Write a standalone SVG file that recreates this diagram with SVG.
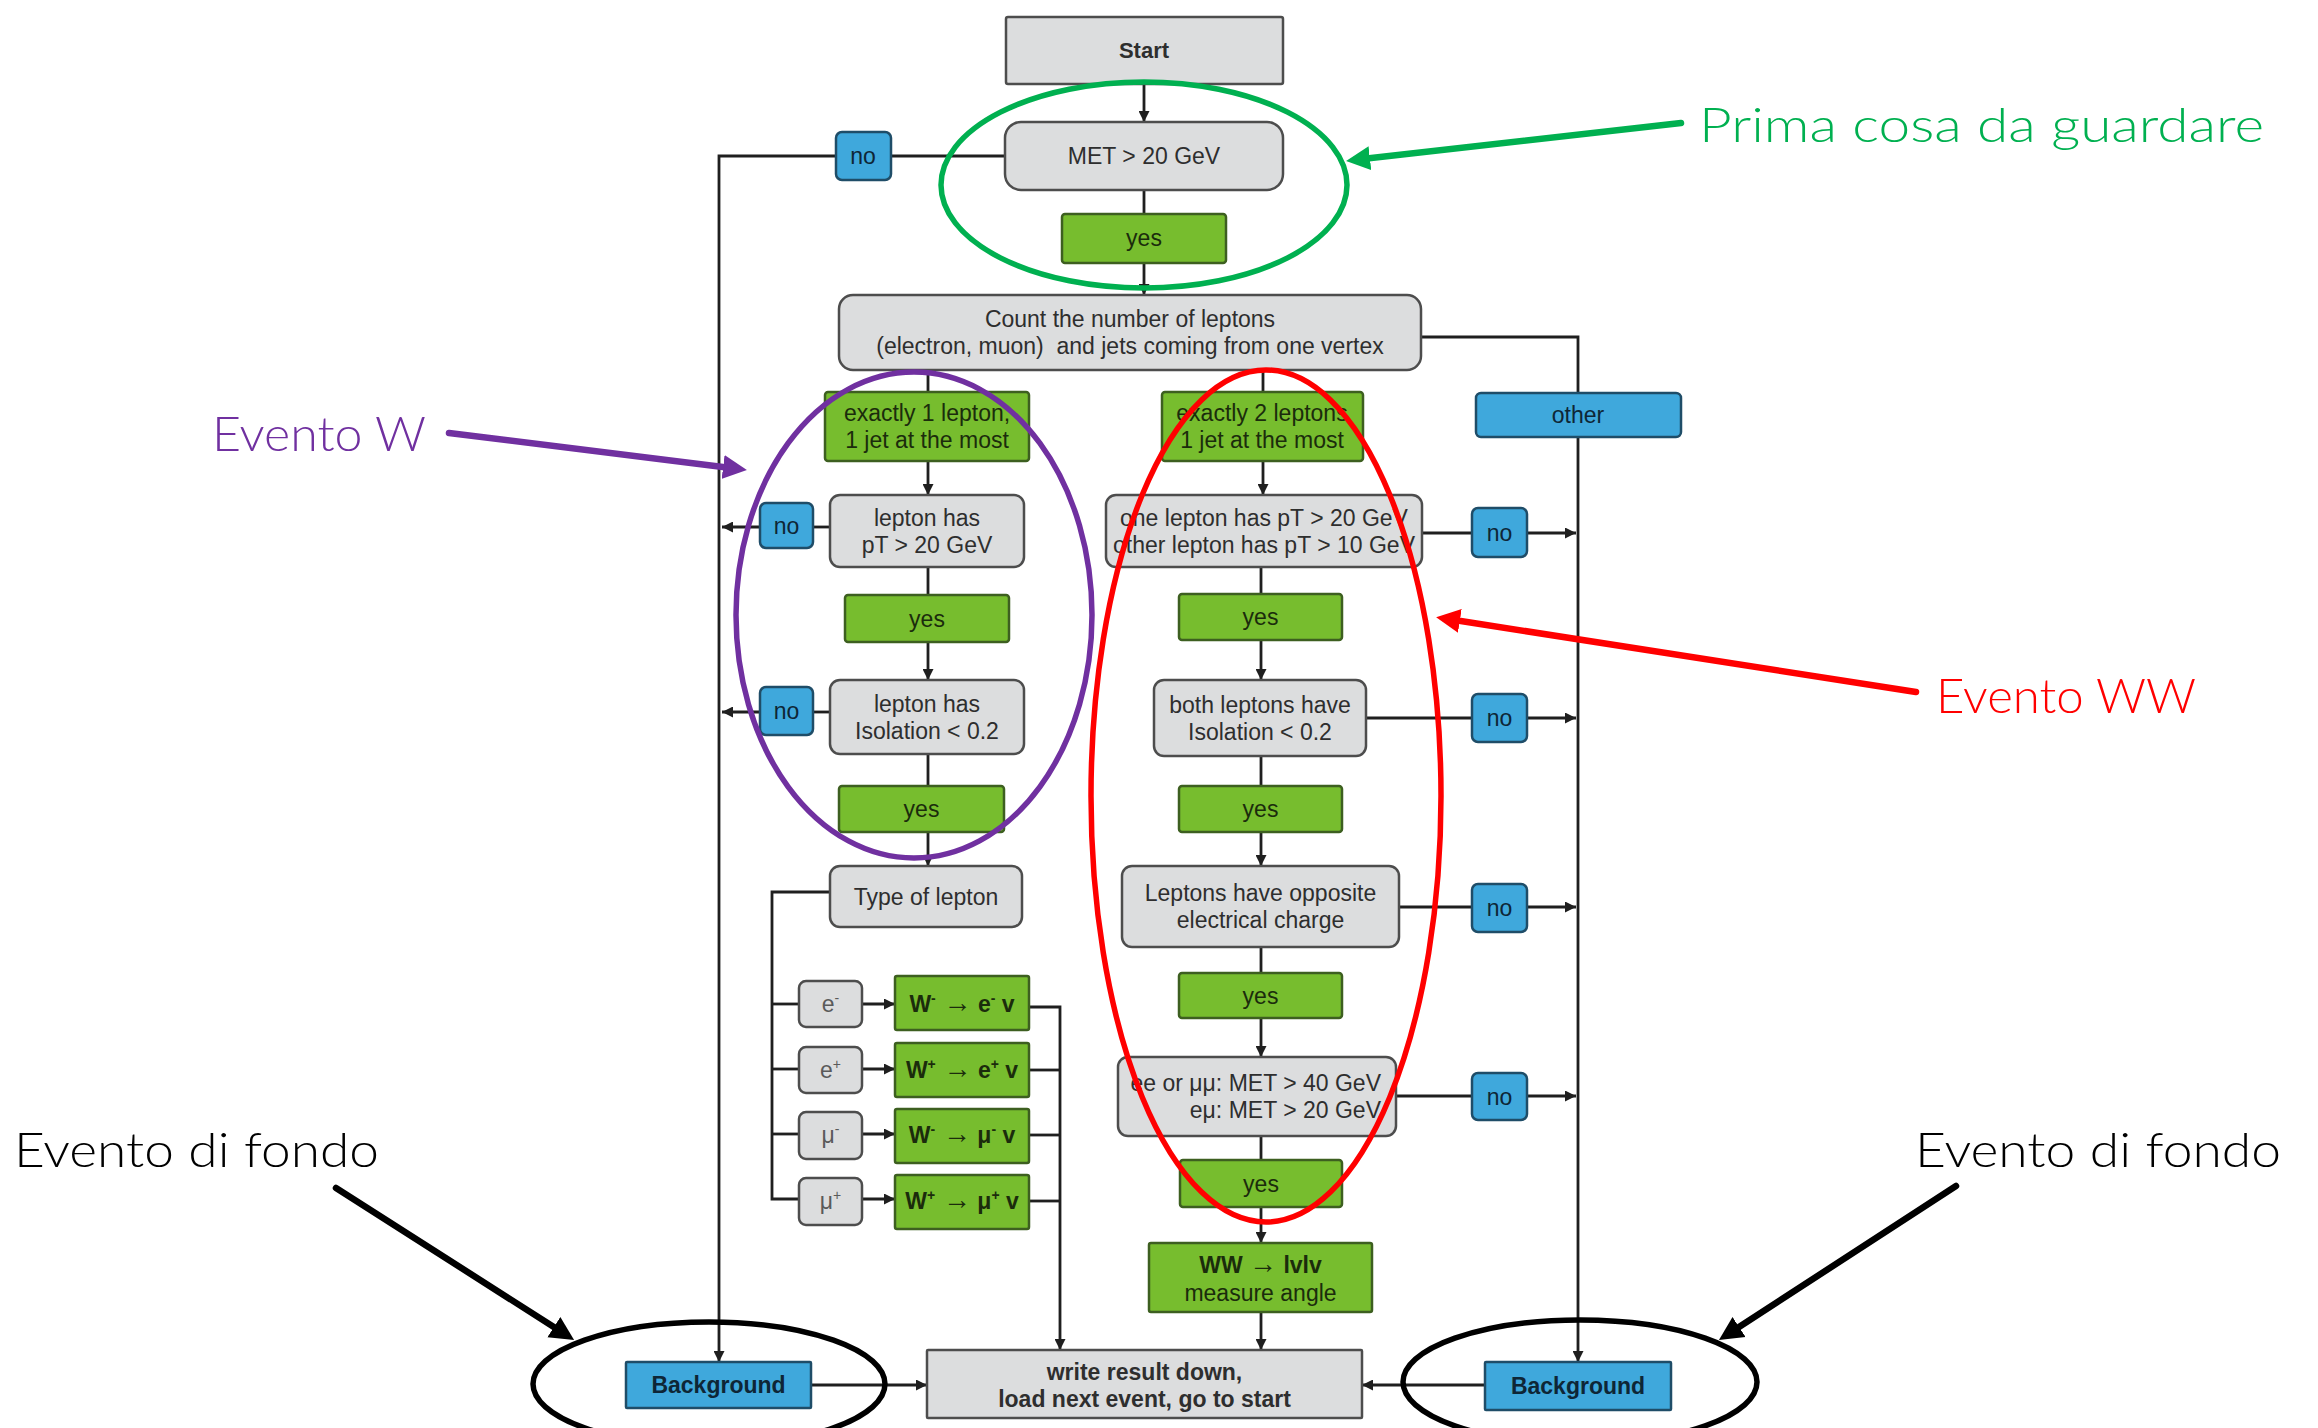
<svg xmlns="http://www.w3.org/2000/svg" width="2318" height="1428" viewBox="0 0 2318 1428">
<defs>
<style>
.g{fill:#dcddde;stroke:#4d4d4d;stroke-width:2.5}
.gr{fill:#77bd2e;stroke:#3d5f20;stroke-width:2.5}
.b{fill:#3fa8dc;stroke:#1f4d68;stroke-width:2.5}
text{font-family:"Liberation Sans",Arial,sans-serif;font-size:23px;text-anchor:middle}
.tg{fill:#2e2e2e}
.tl{fill:#5a5a5a}
.tgr{fill:#1b2c0c}
.tb{fill:#0e2636}
.bd{font-weight:bold}
.c{fill:none;stroke:#1f1f1f;stroke-width:2.8}
.ca{fill:none;stroke:#1f1f1f;stroke-width:2.8;marker-end:url(#ah)}
.ann{font-family:Lato,"Open Sans",sans-serif;font-weight:300;font-size:48px;text-anchor:start}
.ae{fill:none;stroke-width:5.5}
.al{fill:none;stroke-width:6.5;stroke-linecap:round}
</style>
<marker id="ah" viewBox="0 0 10 10" refX="10" refY="5" markerUnits="userSpaceOnUse" markerWidth="11" markerHeight="11" orient="auto"><path d="M0,0 L10,5 L0,10 z" fill="#1f1f1f"/></marker>
<marker id="agreen" viewBox="0 0 10 10" refX="5" refY="5" markerUnits="userSpaceOnUse" markerWidth="24" markerHeight="26" orient="auto"><path d="M0,0 L10,5 L0,10 z" fill="#00b050"/></marker>
<marker id="apurple" viewBox="0 0 10 10" refX="5" refY="5" markerUnits="userSpaceOnUse" markerWidth="24" markerHeight="26" orient="auto"><path d="M0,0 L10,5 L0,10 z" fill="#7030a0"/></marker>
<marker id="ared" viewBox="0 0 10 10" refX="5" refY="5" markerUnits="userSpaceOnUse" markerWidth="24" markerHeight="26" orient="auto"><path d="M0,0 L10,5 L0,10 z" fill="#ff0000"/></marker>
<marker id="ablack" viewBox="0 0 10 10" refX="5" refY="5" markerUnits="userSpaceOnUse" markerWidth="24" markerHeight="26" orient="auto"><path d="M0,0 L10,5 L0,10 z" fill="#000000"/></marker>
</defs>
<rect width="2318" height="1428" fill="#ffffff"/>

<g id="connectors">
<line class="ca" x1="1144" y1="84" x2="1144" y2="122"/>
<line class="c" x1="1005" y1="156" x2="891" y2="156"/>
<polyline class="ca" points="836,156 719,156 719,1362"/>
<line class="c" x1="1144" y1="190" x2="1144" y2="214"/>
<line class="ca" x1="1144" y1="263" x2="1144" y2="295"/>
<line class="c" x1="928" y1="370" x2="928" y2="392"/>
<line class="c" x1="1263" y1="370" x2="1263" y2="392"/>
<polyline class="ca" points="1421,337 1578,337 1578,1362"/>
<line class="ca" x1="928" y1="461" x2="928" y2="495"/>
<line class="ca" x1="1263" y1="461" x2="1263" y2="495"/>
<line class="c" x1="830" y1="527" x2="813" y2="527"/>
<line class="ca" x1="760" y1="527" x2="722" y2="527"/>
<line class="c" x1="928" y1="567" x2="928" y2="595"/>
<line class="ca" x1="928" y1="642" x2="928" y2="680"/>
<line class="c" x1="830" y1="712" x2="813" y2="712"/>
<line class="ca" x1="760" y1="712" x2="722" y2="712"/>
<line class="c" x1="928" y1="754" x2="928" y2="786"/>
<line class="ca" x1="928" y1="832" x2="928" y2="866"/>
<polyline class="c" points="830,892 772,892 772,1199 799,1199"/>
<line class="c" x1="772" y1="1004" x2="799" y2="1004"/>
<line class="c" x1="772" y1="1069" x2="799" y2="1069"/>
<line class="c" x1="772" y1="1134" x2="799" y2="1134"/>
<line class="ca" x1="862" y1="1004" x2="895" y2="1004"/>
<line class="ca" x1="862" y1="1069" x2="895" y2="1069"/>
<line class="ca" x1="862" y1="1134" x2="895" y2="1134"/>
<line class="ca" x1="862" y1="1199" x2="895" y2="1199"/>
<polyline class="ca" points="1029,1007 1060,1007 1060,1350"/>
<line class="c" x1="1029" y1="1070" x2="1060" y2="1070"/>
<line class="c" x1="1029" y1="1135" x2="1060" y2="1135"/>
<line class="c" x1="1029" y1="1201" x2="1060" y2="1201"/>
<line class="c" x1="1422" y1="533" x2="1472" y2="533"/>
<line class="ca" x1="1527" y1="533" x2="1576" y2="533"/>
<line class="c" x1="1261" y1="567" x2="1261" y2="594"/>
<line class="ca" x1="1261" y1="640" x2="1261" y2="680"/>
<line class="c" x1="1366" y1="718" x2="1472" y2="718"/>
<line class="ca" x1="1527" y1="718" x2="1576" y2="718"/>
<line class="c" x1="1261" y1="756" x2="1261" y2="786"/>
<line class="ca" x1="1261" y1="832" x2="1261" y2="866"/>
<line class="c" x1="1399" y1="907" x2="1472" y2="907"/>
<line class="ca" x1="1527" y1="907" x2="1576" y2="907"/>
<line class="c" x1="1261" y1="947" x2="1261" y2="973"/>
<line class="ca" x1="1261" y1="1018" x2="1261" y2="1057"/>
<line class="c" x1="1396" y1="1096" x2="1472" y2="1096"/>
<line class="ca" x1="1527" y1="1096" x2="1576" y2="1096"/>
<line class="c" x1="1261" y1="1136" x2="1261" y2="1160"/>
<line class="ca" x1="1261" y1="1207" x2="1261" y2="1243"/>
<line class="ca" x1="1261" y1="1312" x2="1261" y2="1350"/>
<line class="ca" x1="811" y1="1385" x2="927" y2="1385"/>
<line class="ca" x1="1485" y1="1385" x2="1362" y2="1385"/>
</g>

<g id="start"><rect class="g" x="1006" y="17" width="277" height="67" rx="2"/><text class="tg bd" x="1144" y="58" style="font-size:22px">Start</text></g>
<g id="met"><rect class="g" x="1005" y="122" width="278" height="68" rx="16"/><text class="tg" x="1144" y="164">MET &gt; 20 GeV</text></g>
<g id="no-met"><rect class="b" x="836" y="132" width="55" height="48" rx="6"/><text class="tb" x="863" y="164">no</text></g>
<g id="yes-met"><rect class="gr" x="1062" y="214" width="164" height="49" rx="3"/><text class="tgr" x="1144" y="246">yes</text></g>
<g id="count"><rect class="g" x="839" y="295" width="582" height="75" rx="14"/><text class="tg" x="1130" y="327">Count the number of leptons</text><text class="tg" x="1130" y="354" xml:space="preserve">(electron, muon)  and jets coming from one vertex</text></g>
<g id="exactly1"><rect class="gr" x="825" y="392" width="204" height="69" rx="3"/><text class="tgr" x="927" y="421">exactly 1 lepton,</text><text class="tgr" x="927" y="448">1 jet at the most</text></g>
<g id="exactly2"><rect class="gr" x="1162" y="392" width="201" height="69" rx="3"/><text class="tgr" x="1262" y="421">exactly 2 leptons</text><text class="tgr" x="1262" y="448">1 jet at the most</text></g>
<g id="other"><rect class="b" x="1476" y="393" width="205" height="44" rx="5"/><text class="tb" x="1578" y="423">other</text></g>
<g id="pt1"><rect class="g" x="830" y="495" width="194" height="72" rx="10"/><text class="tg" x="927" y="526">lepton has</text><text class="tg" x="927" y="553">pT &gt; 20 GeV</text></g>
<g id="no-pt1"><rect class="b" x="760" y="503" width="53" height="45" rx="6"/><text class="tb" x="786.5" y="534">no</text></g>
<g id="pt2"><rect class="g" x="1106" y="495" width="316" height="72" rx="10"/><text class="tg" x="1264" y="526">one lepton has pT &gt; 20 GeV</text><text class="tg" x="1264" y="553">other lepton has pT &gt; 10 GeV</text></g>
<g id="no-pt2"><rect class="b" x="1472" y="508" width="55" height="49" rx="6"/><text class="tb" x="1499.5" y="541">no</text></g>
<g id="yes-pt1"><rect class="gr" x="845" y="595" width="164" height="47" rx="3"/><text class="tgr" x="927" y="627">yes</text></g>
<g id="yes-pt2"><rect class="gr" x="1179" y="594" width="163" height="46" rx="3"/><text class="tgr" x="1260.5" y="625">yes</text></g>
<g id="iso1"><rect class="g" x="830" y="680" width="194" height="74" rx="10"/><text class="tg" x="927" y="712">lepton has</text><text class="tg" x="927" y="739">Isolation &lt; 0.2</text></g>
<g id="no-iso1"><rect class="b" x="760" y="687" width="53" height="48" rx="6"/><text class="tb" x="786.5" y="719">no</text></g>
<g id="iso2"><rect class="g" x="1154" y="680" width="212" height="76" rx="10"/><text class="tg" x="1260" y="713">both leptons have</text><text class="tg" x="1260" y="740">Isolation &lt; 0.2</text></g>
<g id="no-iso2"><rect class="b" x="1472" y="694" width="55" height="48" rx="6"/><text class="tb" x="1499.5" y="726">no</text></g>
<g id="yes-iso1"><rect class="gr" x="839" y="786" width="165" height="46" rx="3"/><text class="tgr" x="921.5" y="817">yes</text></g>
<g id="yes-iso2"><rect class="gr" x="1179" y="786" width="163" height="46" rx="3"/><text class="tgr" x="1260.5" y="817">yes</text></g>
<g id="type"><rect class="g" x="830" y="866" width="192" height="61" rx="10"/><text class="tg" x="926" y="905">Type of lepton</text></g>
<g id="opp"><rect class="g" x="1122" y="866" width="277" height="81" rx="10"/><text class="tg" x="1260.5" y="901">Leptons have opposite</text><text class="tg" x="1260.5" y="928">electrical charge</text></g>
<g id="no-opp"><rect class="b" x="1472" y="884" width="55" height="48" rx="6"/><text class="tb" x="1499.5" y="916">no</text></g>
<g id="yes-opp"><rect class="gr" x="1179" y="973" width="163" height="45" rx="3"/><text class="tgr" x="1260.5" y="1004">yes</text></g>
<g id="met2"><rect class="g" x="1118" y="1057" width="278" height="79" rx="10"/><text class="tg" x="1381" y="1091" style="text-anchor:end">ee or μμ: MET &gt; 40 GeV</text><text class="tg" x="1381" y="1118" style="text-anchor:end">eμ: MET &gt; 20 GeV</text></g>
<g id="no-met2"><rect class="b" x="1472" y="1073" width="55" height="47" rx="6"/><text class="tb" x="1499.5" y="1105">no</text></g>
<g id="yes-met2"><rect class="gr" x="1180" y="1160" width="162" height="47" rx="3"/><text class="tgr" x="1261" y="1192">yes</text></g>
<g id="ww"><rect class="gr" x="1149" y="1243" width="223" height="69" rx="2"/><text class="tgr bd" x="1260.5" y="1273">WW <tspan font-size="28">→</tspan> lvlv</text><text class="tgr" x="1260.5" y="1301">measure angle</text></g>

<g id="lep-em"><rect class="g" x="799" y="981" width="63" height="46" rx="7"/><text class="tl" x="830.5" y="1012">e<tspan font-size="14" dy="-9">-</tspan></text></g>
<g id="lep-ep"><rect class="g" x="799" y="1047" width="63" height="46" rx="7"/><text class="tl" x="830.5" y="1078">e<tspan font-size="14" dy="-9">+</tspan></text></g>
<g id="lep-mm"><rect class="g" x="799" y="1112" width="63" height="47" rx="7"/><text class="tl" x="830.5" y="1143">μ<tspan font-size="14" dy="-9">-</tspan></text></g>
<g id="lep-mp"><rect class="g" x="799" y="1178" width="63" height="47" rx="7"/><text class="tl" x="830.5" y="1209">μ<tspan font-size="14" dy="-9">+</tspan></text></g>
<g id="w-em"><rect class="gr" x="895" y="976" width="134" height="54" rx="2"/><text class="tgr bd" x="962" y="1012">W<tspan font-size="14" dy="-9">-</tspan><tspan dy="9" font-size="28"> →</tspan><tspan dy="0"> e</tspan><tspan font-size="14" dy="-9">-</tspan><tspan dy="9"> v</tspan></text></g>
<g id="w-ep"><rect class="gr" x="895" y="1043" width="134" height="54" rx="2"/><text class="tgr bd" x="962" y="1078">W<tspan font-size="14" dy="-9">+</tspan><tspan dy="9" font-size="28"> →</tspan><tspan dy="0"> e</tspan><tspan font-size="14" dy="-9">+</tspan><tspan dy="9"> v</tspan></text></g>
<g id="w-mm"><rect class="gr" x="895" y="1109" width="134" height="54" rx="2"/><text class="tgr bd" x="962" y="1143">W<tspan font-size="14" dy="-9">-</tspan><tspan dy="9" font-size="28"> →</tspan><tspan dy="0"> μ</tspan><tspan font-size="14" dy="-9">-</tspan><tspan dy="9"> v</tspan></text></g>
<g id="w-mp"><rect class="gr" x="895" y="1175" width="134" height="54" rx="2"/><text class="tgr bd" x="962" y="1209">W<tspan font-size="14" dy="-9">+</tspan><tspan dy="9" font-size="28"> →</tspan><tspan dy="0"> μ</tspan><tspan font-size="14" dy="-9">+</tspan><tspan dy="9"> v</tspan></text></g>

<g id="bg-left"><rect class="b" x="626" y="1362" width="185" height="46" rx="1"/><text class="tb bd" x="718.5" y="1393">Background</text></g>
<g id="bg-right"><rect class="b" x="1485" y="1362" width="186" height="48" rx="1"/><text class="tb bd" x="1578" y="1394">Background</text></g>
<g id="write"><rect class="g" x="927" y="1350" width="435" height="68" rx="1"/><text class="tg bd" x="1144.5" y="1380">write result down,</text><text class="tg bd" x="1144.5" y="1407">load next event, go to start</text></g>

<g id="annotations">
<ellipse class="ae" cx="1144" cy="185" rx="203" ry="103" stroke="#00b050"/>
<line class="al" x1="1681" y1="123" x2="1358" y2="159.6" stroke="#00b050" marker-end="url(#agreen)"/>
<text class="ann" x="1699" y="142" fill="#00b050" textLength="565" lengthAdjust="spacingAndGlyphs">Prima cosa da guardare</text>

<ellipse class="ae" cx="914" cy="615" rx="178" ry="243" stroke="#7030a0"/>
<line class="al" x1="449" y1="433" x2="735" y2="468.5" stroke="#7030a0" marker-end="url(#apurple)"/>
<text class="ann" x="212" y="451" fill="#7030a0" textLength="214" lengthAdjust="spacingAndGlyphs">Evento W</text>

<ellipse class="ae" cx="1266" cy="796" rx="175" ry="426" stroke="#ff0000" stroke-width="6"/>
<line class="al" x1="1916" y1="692" x2="1448" y2="619" stroke="#ff0000" marker-end="url(#ared)"/>
<text class="ann" x="1936" y="713" fill="#ff0000" textLength="260" lengthAdjust="spacingAndGlyphs">Evento WW</text>

<ellipse class="ae" cx="709" cy="1384" rx="176" ry="62" stroke="#000000" stroke-width="6"/>
<line class="al" x1="336" y1="1188" x2="564" y2="1333.5" stroke="#000000" marker-end="url(#ablack)"/>
<text class="ann" x="14" y="1167" fill="#000000" textLength="365" lengthAdjust="spacingAndGlyphs">Evento di fondo</text>

<ellipse class="ae" cx="1580" cy="1382" rx="177" ry="62" stroke="#000000" stroke-width="6"/>
<line class="al" x1="1956" y1="1186" x2="1729" y2="1333.5" stroke="#000000" marker-end="url(#ablack)"/>
<text class="ann" x="1915" y="1167" fill="#000000" textLength="366" lengthAdjust="spacingAndGlyphs">Evento di fondo</text>
</g>
</svg>
